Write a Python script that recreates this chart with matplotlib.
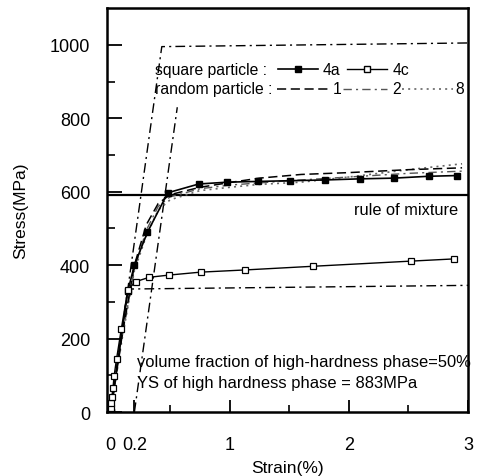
import matplotlib
matplotlib.use("Agg")
import matplotlib.pyplot as plt
from matplotlib.ticker import FixedLocator, NullFormatter

plt.rcParams['font.family'] = ['Liberation Sans', 'DejaVu Sans']

# ---- data (strain %, stress MPa) ----
sq4a_strain = [0, 0.145, 0.20, 0.31, 0.48, 0.74, 0.98, 1.24, 1.51, 1.80, 2.09, 2.38, 2.67, 2.91]
sq4a_stress = [0, 330, 400, 490, 597, 621, 626, 628, 630, 632, 635, 637, 642, 644]

sq4c_strain = [0, 0.003, 0.006, 0.01, 0.02, 0.03, 0.05, 0.09, 0.145, 0.21, 0.325, 0.49,
               0.755, 1.13, 1.70, 2.52, 2.88]
sq4c_stress = [0, 10, 25, 40, 65, 99, 144, 226, 333, 355, 367, 373, 381, 387, 397, 411, 417]

r1_strain = [0, 0.1, 0.2, 0.3, 0.4, 0.5, 0.75, 1.0, 1.25, 1.6, 2.0, 2.5, 2.95]
r1_stress = [0, 215, 400, 510, 568, 592, 612, 625, 637, 647, 652, 660, 665]

r2_strain = [0, 0.1, 0.2, 0.3, 0.4, 0.5, 0.75, 1.0, 1.5, 2.0, 2.5, 2.95]
r2_stress = [0, 210, 390, 495, 560, 586, 608, 618, 630, 640, 650, 656]

r8_strain = [0, 0.1, 0.2, 0.3, 0.4, 0.5, 0.75, 1.0, 1.25, 1.6, 2.0, 2.5, 2.95]
r8_stress = [0, 205, 385, 480, 550, 578, 603, 612, 620, 626, 640, 660, 676]

high_strain = [0, 0.43, 3.0]
high_stress = [0, 995, 1005]

low_strain = [0, 0.144, 3.0]
low_stress = [0, 335, 345]

offset_strain = [0.2, 0.56]
offset_stress = [0, 830]

rule_strain = [-0.03, 3.0]
rule_stress = [590, 590]

xtick_major = [0, 0.2, 1, 2, 3]
xtick_labels = ['0', '0.2', '1', '2', '3']
xtick_minor = [0.5, 1.5, 2.5]
ytick_major = [0, 200, 400, 600, 800, 1000]
ytick_minor = [100, 300, 500, 700, 900]

# ---- figure ----
fig = plt.figure(figsize=(4.83, 4.77), dpi=100)
ax = fig.add_axes([0.2215, 0.134, 0.7475, 0.847])

dd = (0, (7, 3, 1.5, 3))
ax.plot(high_strain, high_stress, color='black', lw=1.0, ls=dd)
ax.plot(low_strain, low_stress, color='black', lw=1.0, ls=dd)
ax.plot(offset_strain, offset_stress, color='black', lw=1.0, ls=dd)
ax.plot(rule_strain, rule_stress, color='black', lw=1.6)

ax.plot(r2_strain, r2_stress, color='#555555', lw=1.0, ls=(0, (6, 3, 1.5, 3)))
ax.plot(r8_strain, r8_stress, color='#666666', lw=1.2, ls=(0, (1.2, 2.5)))
ax.plot(r1_strain, r1_stress, color='black', lw=1.1, ls=(0, (6, 3)))

ax.plot(sq4a_strain, sq4a_stress, color='black', lw=1.2, marker='s', ms=5,
        mfc='black', mec='black')
ax.plot(sq4c_strain, sq4c_stress, color='black', lw=1.0, marker='s', ms=5,
        mfc='white', mec='black', mew=0.9)

ax.set_xlim(-0.03, 3.0)
ax.set_ylim(0, 1100)

ax.xaxis.set_major_locator(FixedLocator(xtick_major))
ax.set_xticklabels(xtick_labels)
ax.xaxis.set_minor_locator(FixedLocator(xtick_minor))
ax.xaxis.set_minor_formatter(NullFormatter())
ax.yaxis.set_major_locator(FixedLocator(ytick_major))
ax.yaxis.set_minor_locator(FixedLocator(ytick_minor))
ax.yaxis.set_minor_formatter(NullFormatter())

ax.tick_params(axis='y', which='major', direction='in', length=11, width=1.3,
               labelsize=13, pad=12)
ax.tick_params(axis='y', which='minor', direction='in', length=6, width=1.2)
ax.tick_params(axis='x', which='major', direction='in', length=9, width=1.3,
               labelsize=13, pad=17)
ax.tick_params(axis='x', which='minor', direction='in', length=5, width=1.2)

for s in ax.spines.values():
    s.set_linewidth(1.8)

ax.set_xlabel('Strain(%)', fontsize=12.5, labelpad=5)
ax.set_ylabel('Stress(MPa)', fontsize=12.5, labelpad=16)

# ---- in-plot legend ----
tf = ax.transAxes
fs = 11.3
ax.text(0.133, 0.849, 'square particle :', transform=tf, fontsize=fs, va='center')
ax.plot([0.474, 0.584], [0.849, 0.849], transform=tf, color='black', lw=1.2)
ax.plot([0.529], [0.849], transform=tf, marker='s', ms=5, color='black')
ax.text(0.596, 0.849, '4a', transform=tf, fontsize=fs, va='center')
ax.plot([0.665, 0.776], [0.849, 0.849], transform=tf, color='black', lw=1.0)
ax.plot([0.72], [0.849], transform=tf, marker='s', ms=5, mfc='white', mec='black')
ax.text(0.792, 0.849, '4c', transform=tf, fontsize=fs, va='center')

ax.text(0.133, 0.80, 'random particle :', transform=tf, fontsize=fs, va='center')
ax.plot([0.471, 0.618], [0.80, 0.80], transform=tf, color='black', lw=1.1, ls=(0, (6, 3)))
ax.text(0.626, 0.80, '1', transform=tf, fontsize=fs, va='center')
ax.plot([0.654, 0.776], [0.80, 0.80], transform=tf, color='#555555', lw=1.0,
        ls=(0, (6, 3, 1.5, 3)))
ax.text(0.789, 0.80, '2', transform=tf, fontsize=fs, va='center')
ax.plot([0.817, 0.958], [0.80, 0.80], transform=tf, color='#666666', lw=1.2,
        ls=(0, (1.2, 2.5)))
ax.text(0.964, 0.80, '8', transform=tf, fontsize=fs, va='center')

ax.text(0.972, 0.502, 'rule of mixture', transform=tf, fontsize=11.8, ha='right', va='center')
ax.text(0.083, 0.124, 'volume fraction of high-hardness phase=50%', transform=tf,
        fontsize=11.9, va='center')
ax.text(0.083, 0.074, 'YS of high hardness phase = 883MPa', transform=tf,
        fontsize=11.9, va='center')

fig.savefig('out.png', dpi=100)
